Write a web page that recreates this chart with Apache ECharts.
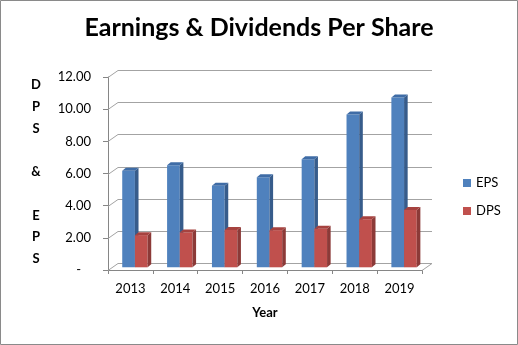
<!DOCTYPE html>
<html><head><meta charset="utf-8">
<script src="https://cdn.jsdelivr.net/npm/echarts@6/dist/echarts.min.js"></script>
<style>html,body{margin:0;padding:0;background:#fff}#c{width:518px;height:345px}</style>
</head><body><div id="c"></div>
<script>
const years = ['2013', '2014', '2015', '2016', '2017', '2018', '2019'];
const eps = [6.00, 6.35, 5.07, 5.60, 6.72, 9.50, 10.55];
const dps = [2.00, 2.17, 2.32, 2.31, 2.40, 2.99, 3.57];
const yTicks = [0, 2, 4, 6, 8, 10, 12];
const titleText = 'Earnings & Dividends Per Share';
const yAxisTitle = 'DPS & EPS';
const xAxisTitle = 'Year';

const FONT = 'Lato';
// 3D look parameters (style only)
const WX = 10, WY = -7;      // back wall offset
const D1X = 4.5, D1Y = -2.7; // bar front plane offset
const DX = 3.6, DY = -3;     // bar depth

function barRenderer(side, col) {
  return function (params, api) {
    const idx = api.value(0), v = api.value(1);
    const base = api.coord([idx, 0]);
    const top = api.coord([idx, v]);
    const band = api.size([1, 0])[0];
    const w = band * 0.283;
    const cx = base[0] + D1X;
    const x0 = side === 0 ? cx - w : cx;
    const x1 = x0 + w;
    const yb = base[1] + D1Y, yt = top[1] + D1Y;
    return {
      type: 'group', children: [
        { type: 'polygon', shape: { points: [[x0, yb], [x1, yb], [x1, yt], [x0, yt]] }, style: { fill: col.front } },
        { type: 'polygon', shape: { points: [[x1, yb], [x1 + DX, yb + DY], [x1 + DX, yt + DY], [x1, yt]] }, style: { fill: col.side } },
        { type: 'polygon', shape: { points: [[x0, yt], [x1, yt], [x1 + DX, yt + DY], [x0 + DX, yt + DY]] }, style: { fill: col.top } }
      ]
    };
  };
}

function frameRenderer(params, api) {
  const v = api.value(1);
  const p = api.coord([0, v]);
  const cs = params.coordSys;
  const x0 = cs.x, x1 = cs.x + cs.width;
  const y = Math.round(p[1]) + 0.5;
  const yb = Math.round(p[1] + WY) + 0.5;
  const children = [
    { type: 'polyline', shape: { points: [[x0, y], [x0 + WX, yb], [x1 + WX, yb]] }, style: { stroke: '#a3a3a3', lineWidth: 1, fill: null } }
  ];
  if (v === 0) {
    children.push({ type: 'line', shape: { x1: x1, y1: y, x2: x1 + WX, y2: yb }, style: { stroke: '#a3a3a3', lineWidth: 1 } });
  }
  return { type: 'group', children };
}

const chart = echarts.init(document.getElementById('c'), null, { renderer: 'canvas' });
chart.setOption({
  animation: false,
  backgroundColor: '#fff',
  textStyle: { fontFamily: FONT },
  title: {
    text: titleText, left: 'center', top: 10,
    textStyle: { fontFamily: FONT, fontWeight: 'bold', fontSize: 25, color: '#000' }
  },
  legend: {
    orient: 'vertical', left: 463, top: 175, itemWidth: 8, itemHeight: 8, itemGap: 12,
    icon: 'rect', padding: 0,
    textStyle: { fontFamily: FONT, fontSize: 13, color: '#000', lineHeight: 16 },
    data: ['EPS', 'DPS']
  },
  grid: { left: 108, right: 96, top: 77, bottom: 75 },
  xAxis: {
    type: 'category', data: years,
    axisLine: { lineStyle: { color: '#868686' } },
    axisTick: { show: true, length: 4, lineStyle: { color: '#868686' } },
    axisLabel: { fontFamily: FONT, fontSize: 13, color: '#000', margin: 12 },
    name: xAxisTitle, nameLocation: 'middle', nameGap: 36,
    nameTextStyle: { fontFamily: FONT, fontWeight: 'bold', fontSize: 13, color: '#000' }
  },
  yAxis: {
    type: 'value', min: 0, max: 12, interval: 2,
    axisLine: { show: true, lineStyle: { color: '#868686' } },
    axisTick: { show: true, length: 5, lineStyle: { color: '#868686' } },
    splitLine: { show: false },
    axisLabel: {
      fontFamily: FONT, fontSize: 13, color: '#000', margin: 17,
      formatter: v => v === 0 ? '-   ' : v.toFixed(2)
    }
  },
  graphic: [
    { type: 'rect', shape: { x: 0.5, y: 0.5, width: 517, height: 344 }, style: { fill: null, stroke: '#8a8a8a', lineWidth: 1 }, silent: true },
    {
      type: 'text', x: 36, y: 172,
      style: {
        text: yAxisTitle.split('').join('\n'), fontFamily: FONT, fontWeight: 'bold', fontSize: 13,
        lineHeight: 21.7, align: 'center', verticalAlign: 'middle', fill: '#000'
      }
    }
  ],
  series: [
    {
      type: 'custom', name: 'frame', silent: true, z: 1,
      data: yTicks.map(v => [0, v]), encode: { x: 0, y: 1 },
      renderItem: frameRenderer
    },
    {
      type: 'custom', name: 'EPS', z: 2,
      itemStyle: { color: '#4F81BD' },
      data: eps.map((v, i) => [i, v]), encode: { x: 0, y: 1 },
      renderItem: barRenderer(0, { front: '#4F81BD', side: '#375C8B', top: '#3F6CA6' })
    },
    {
      type: 'custom', name: 'DPS', z: 3,
      itemStyle: { color: '#C0504D' },
      data: dps.map((v, i) => [i, v]), encode: { x: 0, y: 1 },
      renderItem: barRenderer(1, { front: '#C0504D', side: '#8C3A38', top: '#A6423F' })
    }
  ]
});
</script>
</body></html>
